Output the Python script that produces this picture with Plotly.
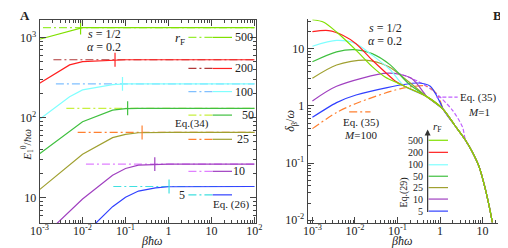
import plotly.graph_objects as go

W, H = 508, 248
FONT = "Liberation Serif"

# ---------------- Panel A data ----------------
rF = [500, 200, 100, 50, 25, 10, 5]
rF_labels = ["500", "200", "100", "50", "25", "10", "5"]
xA = [0.001, 0.005, 0.01, 0.05, 0.1, 0.2, 0.5, 1, 100]
EA_500 = [950, 1215, 1322, 1324, 1324, 1324, 1324, 1324, 1324]
EA_200 = [268, 455, 500, 524, 527, 527, 527, 527, 527]
EA_100 = [95.5, 182, 222, 258, 264, 264, 264, 264, 264]
EA_50 = [35.6, 68, 89, 124, 130, 131, 131, 131, 131]
EA_25 = [12.7, 26, 35, 56.5, 62, 65, 65.5, 65.5, 65.5]
EA_10 = [3.0, 6.8, 9.7, 19.2, 23.3, 25.6, 26.3, 26.4, 26.4]
EA_5 = [1.0, 2.3, 3.3, 7.8, 10.2, 12.2, 13.4, 13.8, 13.9]
EA = [EA_500, EA_200, EA_100, EA_50, EA_25, EA_10, EA_5]
# Eq.(34) levels, start points and marker positions
E34_level = [1324, 527, 264, 131, 65.5, 26.4, 13.9]
E34_start = [0.0012, 0.0021, 0.0024, 0.0042, 0.0077, 0.012, 0.052]
E34_end = 100
mark_x = [0.009, 0.057, 0.085, 0.112, 0.243, 0.48, 1.03]

col_solid = ["#80e000", "#ff2020", "#80ffff", "#40c040", "#a0a030", "#a040c0", "#3040ff"]
col_dd = ["#99ee33", "#b03838", "#80c0ff", "#c8f040", "#ff8030", "#e080ff", "#40e0e0"]

# ---------------- Panel B data ----------------
B_x = {
    500: [0.001, 0.00185, 0.0037, 0.0106, 0.0254, 0.051, 0.101],
    200: [0.001, 0.0024, 0.0053, 0.0106, 0.0254, 0.051, 0.0863],
    100: [0.001, 0.0037, 0.0106, 0.0254, 0.0664],
    50: [0.001, 0.0037, 0.0097, 0.0254, 0.0664, 0.19],
    25: [0.001, 0.0037, 0.0179, 0.0608, 0.19],
    10: [0.001, 0.0037, 0.0608, 0.207, 0.42],
    5: [0.001, 0.0037, 0.0106, 0.293, 0.59, 1.0],
}
B_y = {
    500: [32, 29, 19.5, 9.4, 4.85, 3.2, 2.5],
    200: [19.9, 20.7, 17.0, 12.2, 6.33, 3.9, 2.75],
    100: [11.0, 13.9, 12.2, 7.7, 4.32],
    50: [5.9, 8.77, 9.6, 8.2, 5.25, 2.38],
    25: [3.05, 5.19, 6.3, 4.86, 2.58],
    10: [1.22, 2.2, 3.73, 3.06, 1.69],
    5: [0.63, 1.14, 1.55, 2.51, 2.2, 1.15],
}
tail_x = [0.146, 0.488, 1.19, 2.23, 3.97, 5.74, 8.28, 11.35, 14.75, 17.0]
tail_y = [2.2, 1.45, 0.87, 0.454, 0.251, 0.156, 0.0865, 0.0377, 0.0158, 0.0091]
M100_x = [0.001, 0.0037, 0.0106, 0.12, 0.495, 0.9]
M100_y = [0.40, 0.767, 1.1, 2.0, 2.2, 1.5]
M1_x = [0.096, 0.3, 0.703, 2.01, 3.4]
M1_y = [3.83, 2.7, 1.81, 0.82, 0.42]

DD = "8px,3px,2px,3px"

fig = go.Figure()


def with_tail(xs, ys):
    xx = list(xs) + [t for t in tail_x if t > xs[-1] * 1.05]
    yy = list(ys) + [tail_y[k] for k, t in enumerate(tail_x) if t > xs[-1] * 1.05]
    return xx, yy


# Panel A traces
for i in range(len(rF)):
    fig.add_trace(go.Scatter(x=[E34_start[i], E34_end], y=[E34_level[i]] * 2, mode="lines",
                             line=dict(color=col_dd[i], width=1.2, dash=DD),
                             xaxis="x", yaxis="y", showlegend=False))
for i in range(len(rF)):
    fig.add_trace(go.Scatter(x=xA, y=EA[i], mode="lines",
                             line=dict(color=col_solid[i], width=1.2),
                             xaxis="x", yaxis="y", showlegend=False))
    fig.add_trace(go.Scatter(x=[mark_x[i], mark_x[i]], y=[E34_level[i] / 1.22, E34_level[i] * 1.22],
                             mode="lines", line=dict(color=col_dd[i] if i in (4, 6) else col_solid[i], width=1.2),
                             xaxis="x", yaxis="y", showlegend=False))

# Panel B traces
mx, my = with_tail(M1_x, M1_y)
fig.add_trace(go.Scatter(x=mx, y=my, mode="lines",
                         line=dict(color="#c060ff", width=1.2, dash="4px,2px", shape="spline", smoothing=0.8),
                         xaxis="x2", yaxis="y2", showlegend=False))
mx, my = with_tail(M100_x, M100_y)
fig.add_trace(go.Scatter(x=mx, y=my, mode="lines",
                         line=dict(color="#ff8030", width=1.2, dash=DD, shape="spline", smoothing=0.8),
                         xaxis="x2", yaxis="y2", showlegend=False))
order_b = [5, 10, 25, 50, 100, 200, 500]
for r in order_b:
    i = rF.index(r)
    xs, ys = with_tail(B_x[r], B_y[r])
    fig.add_trace(go.Scatter(x=xs, y=ys, mode="lines",
                             line=dict(color=col_solid[i], width=1.2, shape="spline", smoothing=0.8),
                             xaxis="x2", yaxis="y2", showlegend=False))


def P(px, py):
    return px / W, 1 - py / H


def ann(text, px, py, size=12, **kw):
    x, y = P(px, py)
    d = dict(text=text, x=x, y=y, xref="paper", yref="paper", showarrow=False,
             xanchor="center", yanchor="middle",
             font=dict(family=FONT, size=size, color="#222"))
    d.update(kw)
    return d


def seg(px0, px1, py, color, dash="solid"):
    x0, y = P(px0, py)
    x1, _ = P(px1, py)
    return dict(type="line", xref="paper", yref="paper", x0=x0, x1=x1, y0=y, y1=y,
                line=dict(color=color, width=1.2, dash=dash))


annotations = []
shapes = []

# Panel A legend
legA_py = [30, 61.7, 85.3, 109.3, 134, 166.7, 190.7]
legA_lx = [234, 234, 234, 238.3, 233, 229.3, 170.5]
for i in range(len(rF)):
    shapes.append(seg(177, 202, legA_py[i], col_dd[i], DD))
    shapes.append(seg(202, 222, legA_py[i], col_solid[i]))
    annotations.append(ann(rF_labels[i], legA_lx[i], legA_py[i], 12))
annotations += [
    ann("<b>A</b>", 8, 8, 13),
    ann("<i>s</i> = 1/2", 90, 27, 12),
    ann("<i>α</i> = 0.2", 90, 40, 12),
    ann("<i>r</i><sub>F</sub>", 168, 31, 13),
    ann("Eq.(34)", 181, 118, 11),
    ann("Eq. (26)", 220.5, 200.7, 11),
    ann("<i>E</i><sub>1</sub><sup>0</sup>/<i>ħω</i>", 11, 140, 11, textangle=-90),
    ann("<i>βħω</i>", 139, 238, 12),
]

# Panel B legend
legB_py = [135, 147.3, 160, 171.7, 183.3, 195, 207.3]
for i in range(len(rF)):
    shapes.append(seg(425, 445, legB_py[i], col_solid[i]))
    annotations.append(ann(rF_labels[i], 421, legB_py[i], 10, xanchor="right"))
shapes.append(seg(433, 455, 91, "#c060ff", "4px,2px"))
shapes.append(seg(343, 365, 106, "#ff8030", DD))
ax_, ay_ = P(424, 124)
annotations += [
    dict(text="", x=ax_, y=ay_, xref="paper", yref="paper", showarrow=True, ax=0, ay=84,
         arrowhead=2, arrowsize=1, arrowwidth=1.2, arrowcolor="#333"),
    ann("<i>r</i><sub>F</sub>", 434, 121, 11),
    ann("Eq.(29)", 400, 188, 10, textangle=-90),
    ann("<b>B</b>", 496, 8, 13),
    ann("<i>s</i> = 1/2", 380, 20.7, 12),
    ann("<i>α</i> = 0.2", 380, 33.3, 12),
    ann("Eq. (35)", 476, 91, 11),
    ann("<i>M</i>=1", 477, 106, 11),
    ann("Eq. (35)", 355, 117, 11),
    ann("<i>M</i>=100", 355, 130, 11),
    ann("<i>δ</i><sub>β</sub>/<i>ω</i>", 283, 115, 12, textangle=-90),
    ann("<i>βħω</i>", 397, 238, 12),
]


def minors(lo, hi):
    out = []
    for e in range(lo, hi + 1):
        for m in range(2, 10):
            out.append(m * 10.0 ** e)
    return out


xA_ticks = [1e-3, 1e-2, 1e-1, 1, 10, 100]
xA_text = ["10<sup>-3</sup>", "10<sup>-2</sup>", "10<sup>-1</sup>", "1", "10", "10<sup>2</sup>"]
yA_ticks = [10, 100, 1000]
yA_text = ["10", "10<sup>2</sup>", "10<sup>3</sup>"]
xB_ticks = [1e-3, 1e-2, 1e-1, 1, 10]
xB_text = ["10<sup>-3</sup>", "10<sup>-2</sup>", "10<sup>-1</sup>", "1", "10"]
yB_ticks = [1e-2, 1e-1, 1, 10]
yB_text = ["10<sup>-2</sup>", "10<sup>-1</sup>", "1", "10"]

axis_common = dict(type="log", showgrid=False, zeroline=False, showline=True, linecolor="#444",
                   linewidth=1, ticks="inside", ticklen=6, tickcolor="#444", tickmode="array",
                   tickfont=dict(family=FONT, size=12, color="#222"))

fig.update_layout(
    width=W, height=H, margin=dict(l=0, r=0, t=0, b=0),
    paper_bgcolor="white", plot_bgcolor="white",
    xaxis=dict(axis_common, domain=[23.3 / W, 246.5 / W], range=[-3, 2.03], anchor="y", mirror="ticks",
               tickvals=xA_ticks, ticktext=xA_text, ticklabelstandoff=-3,
               minor=dict(ticks="inside", ticklen=3, tickcolor="#444", tickvals=minors(-3, 1), showgrid=False)),
    yaxis=dict(axis_common, domain=[1 - 219.3 / H, 1 - 12 / H], range=[0.69, 3.22], anchor="x", mirror="ticks",
               tickvals=yA_ticks, ticktext=yA_text,
               minor=dict(ticks="inside", ticklen=3, tickcolor="#444", tickvals=minors(0, 3), showgrid=False)),
    xaxis2=dict(axis_common, domain=[300 / W, 496.7 / W], range=[-3.114, 1.364], anchor="y2",
                tickvals=xB_ticks, ticktext=xB_text, ticklabelstandoff=-3,
                minor=dict(ticks="inside", ticklen=3, tickcolor="#444", tickvals=minors(-4, 1), showgrid=False)),
    yaxis2=dict(axis_common, domain=[1 - 219 / H, 1 - 11.7 / H], range=[-2.04, 1.51], anchor="x2",
                tickvals=yB_ticks, ticktext=yB_text,
                minor=dict(ticks="inside", ticklen=3, tickcolor="#444", tickvals=minors(-3, 1), showgrid=False)),
    annotations=annotations, shapes=shapes,
)

fig.write_html("out.html")
